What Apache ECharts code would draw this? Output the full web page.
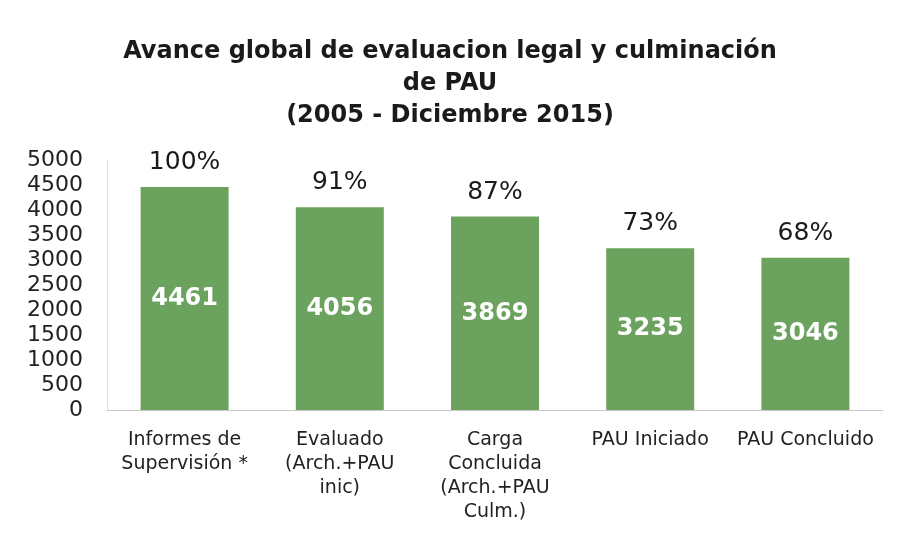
<!DOCTYPE html>
<html>
<head>
<meta charset="utf-8">
<script src="https://cdn.jsdelivr.net/npm/echarts@6/dist/echarts.min.js"></script>
<style>
  html, body { margin: 0; padding: 0; background: #fff; }
  #chart { width: 900px; height: 534px; }
</style>
</head>
<body>
<div id="chart"></div>
<script>
const categories = [
  'Informes de\nSupervisión *',
  'Evaluado\n(Arch.+PAU\ninic)',
  'Carga\nConcluida\n(Arch.+PAU\nCulm.)',
  'PAU Iniciado',
  'PAU Concluido'
];
const values = [4461, 4056, 3869, 3235, 3046];
const percents = [100, 91, 87, 73, 68];
const titleText = 'Avance global de evaluacion legal y culminación\nde PAU\n(2005 - Diciembre 2015)';

const font = '"DejaVu Sans", Verdana, sans-serif';
const chart = echarts.init(document.getElementById('chart'));

chart.setOption({
  backgroundColor: '#ffffff',
  animation: false,
  title: {
    text: titleText,
    left: 'center',
    top: 31,
    textStyle: {
      fontFamily: font,
      fontSize: 24,
      fontWeight: 'bold',
      color: '#1a1a1a',
      lineHeight: 32
    }
  },
  grid: { left: 107, right: 17, top: 160, bottom: 124 },
  xAxis: {
    type: 'category',
    data: categories,
    axisLine: { lineStyle: { color: '#c8c8c8', width: 1 } },
    axisTick: { show: false },
    axisLabel: {
      interval: 0,
      margin: 18,
      fontFamily: font,
      fontSize: 19,
      lineHeight: 24,
      color: '#222'
    }
  },
  yAxis: {
    type: 'value',
    min: 0,
    max: 5000,
    interval: 500,
    axisLine: { show: true, lineStyle: { color: '#e0e0e0' } },
    axisTick: { show: false },
    splitLine: { show: false },
    axisLabel: {
      margin: 24,
      fontFamily: font,
      fontSize: 22,
      color: '#222',
      formatter: v => String(v)
    }
  },
  series: [
    {
      type: 'bar',
      data: values,
      barWidth: 88,
      itemStyle: { color: '#6ba35e' },
      label: {
        show: true,
        position: 'inside',
        fontFamily: font,
        fontSize: 24,
        fontWeight: 'bold',
        color: '#ffffff'
      }
    },
    {
      // percentages sit above each bar
      type: 'scatter',
      data: values,
      symbolSize: 0,
      silent: true,
      itemStyle: { opacity: 1 },
      label: {
        show: true,
        position: 'top',
        distance: 12,
        fontFamily: font,
        fontSize: 25,
        color: '#1a1a1a',
        opacity: 1,
        formatter: p => percents[p.dataIndex] + '%'
      }
    }
  ]
});
</script>
</body>
</html>
